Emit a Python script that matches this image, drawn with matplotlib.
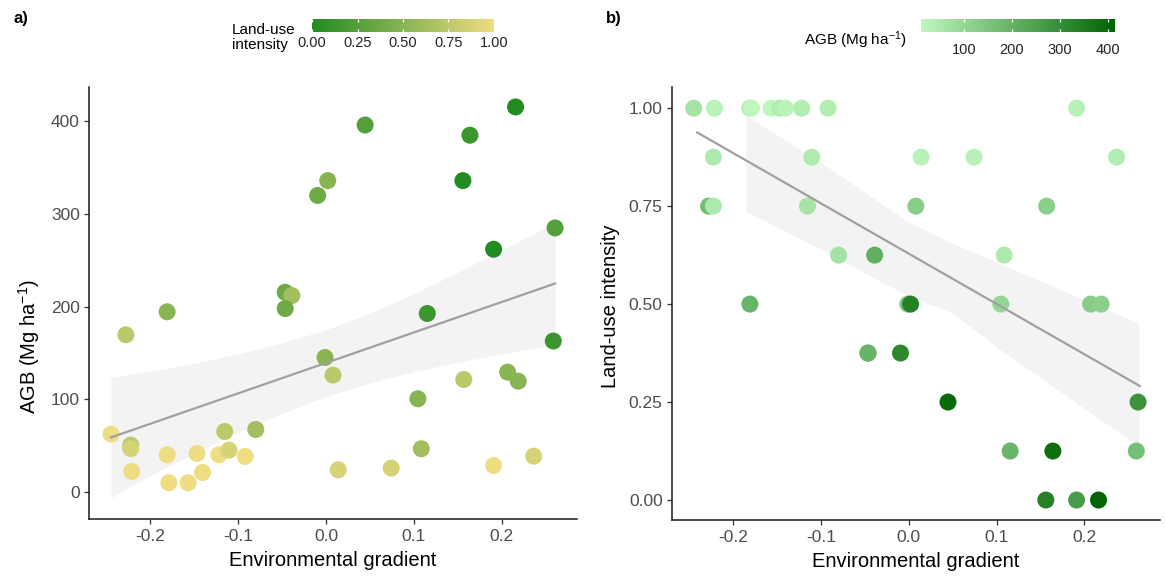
import numpy as np
import matplotlib
matplotlib.use('Agg')
import matplotlib.pyplot as plt
from matplotlib.colors import LinearSegmentedColormap, Normalize
from matplotlib.cm import ScalarMappable

plt.rcParams['font.family'] = ['Liberation Sans', 'DejaVu Sans']
plt.rcParams['mathtext.default'] = 'regular'

# ---- data ----
env = [-0.2449, -0.228, -0.2225, -0.2225, -0.2214, -0.181, -0.181, -0.179, -0.157, -0.147,
       -0.1406, -0.122, -0.1154, -0.1105, -0.092, -0.080, -0.0465, -0.0389, -0.0465, -0.0095,
       -0.0011, 0.002, 0.008, 0.014, 0.0446, 0.0743, 0.1047, 0.1086, 0.1154, 0.156,
       0.157, 0.164, 0.191, 0.191, 0.207, 0.216, 0.219, 0.2366, 0.261, 0.259]
agb = [62.5, 169.7, 50.7, 47.0, 22.3, 194.5, 40.3, 10.1, 10.1, 41.7,
       21.2, 40.3, 65.4, 45.3, 38.5, 67.6, 215.6, 212.0, 198.0, 320.0,
       145.2, 336.0, 126.2, 24.1, 396.0, 25.9, 100.7, 46.8, 192.7, 336.0,
       121.5, 385.0, 262.0, 28.8, 129.4, 415.5, 119.7, 38.8, 285.0, 163.0]
lui = [1.0, 0.75, 0.75, 0.875, 1.0, 0.5, 1.0, 1.0, 1.0, 1.0,
       1.0, 1.0, 0.75, 0.875, 1.0, 0.625, 0.375, 0.625, 0.375, 0.375,
       0.5, 0.5, 0.75, 0.875, 0.25, 0.875, 0.5, 0.625, 0.125, 0.0,
       0.75, 0.125, 0.0, 1.0, 0.5, 0.0, 0.5, 0.875, 0.25, 0.125]

# fitted line and confidence band, panel a
a_fit_x = [-0.245, 0.261]
a_fit_y = [59, 225]
a_band_x = [-0.245, -0.2, -0.15, -0.1, -0.05, 0.0, 0.05, 0.1, 0.15, 0.2, 0.261]
a_band_lo = [-6, 18, 42, 65, 85, 103, 118, 130, 140, 149, 159]
a_band_hi = [124, 130, 139, 149, 161, 175, 193, 214, 237, 261, 290]

# fitted line and confidence band, panel b
b_fit_x = [-0.241, 0.263]
b_fit_y = [0.938, 0.291]
b_band_x = [-0.1856, -0.1, 0.0, 0.05, 0.1, 0.2, 0.262]
b_band_hi = [0.982, 0.861, 0.709, 0.655, 0.607, 0.511, 0.451]
b_band_lo = [0.737, 0.640, 0.520, 0.478, 0.390, 0.234, 0.136]

x_ticks = [-0.2, -0.1, 0.0, 0.1, 0.2]
x_ticklabels = ['-0.2', '-0.1', '0.0', '0.1', '0.2']
a_yticks = [0, 100, 200, 300, 400]
b_yticks = [0.0, 0.25, 0.5, 0.75, 1.0]
b_yticklabels = ['0.00', '0.25', '0.50', '0.75', '1.00']
lui_cb_ticks = [0.0, 0.25, 0.5, 0.75, 1.0]
lui_cb_labels = ['0.00', '0.25', '0.50', '0.75', '1.00']
agb_cb_ticks = [100, 200, 300, 400]

# ---- styles ----
W, H = 1165, 579
cmap_lui = LinearSegmentedColormap.from_list('lui', ['#228B22', '#EEDD82'])
cmap_agb = LinearSegmentedColormap.from_list('agb', ['#BFF7BF', '#006400'])
norm_lui = Normalize(0, 1)
norm_agb = Normalize(min(agb), max(agb))
band_col = '#F3F3F3'
line_col = '#A0A0A0'
tick_col = '#4D4D4D'

fig = plt.figure(figsize=(W / 100, H / 100), dpi=100)
ax1 = fig.add_axes([89 / W, 1 - 519 / H, (577 - 89) / W, (519 - 87) / H])
ax2 = fig.add_axes([671.7 / W, 1 - 520 / H, (1160 - 671.7) / W, (520 - 87) / H])

for ax in (ax1, ax2):
    for s in ('top', 'right'):
        ax.spines[s].set_visible(False)
    for s in ('left', 'bottom'):
        ax.spines[s].set_linewidth(1.1)
        ax.spines[s].set_color('#1A1A1A')
    ax.tick_params(length=3.5, width=0.9, color='#333333', labelcolor=tick_col,
                   labelsize=12.5, pad=3)
    ax.tick_params(axis='x', pad=4)
    ax.set_xlim(-0.270, 0.286)
    ax.set_xticks(x_ticks)
    ax.set_xticklabels(x_ticklabels)
    ax.set_xlabel('Environmental gradient', fontsize=14.5, labelpad=5)

# panel a
ax1.fill_between(a_band_x, a_band_lo, a_band_hi, color=band_col, lw=0, zorder=1)
ax1.scatter(env, agb, c=lui, cmap=cmap_lui, norm=norm_lui, s=150, lw=0, zorder=2)
ax1.plot(a_fit_x, a_fit_y, color=line_col, lw=1.6, zorder=3)
ax1.set_ylim(-29, 437)
ax1.set_yticks(a_yticks)
fig.text(29 / W, 1 - 347 / H, 'AGB (Mg ha$^{-1}$)', rotation=90, ha='center', va='center',
         fontsize=14.5)

# panel b
ax2.fill_between(b_band_x, b_band_lo, b_band_hi, color=band_col, lw=0, zorder=1)
ax2.scatter(env, lui, c=agb, cmap=cmap_agb, norm=norm_agb, s=150, lw=0, zorder=2)
ax2.plot(b_fit_x, b_fit_y, color=line_col, lw=1.6, zorder=3)
ax2.set_ylim(-0.051, 1.054)
ax2.set_yticks(b_yticks)
ax2.set_yticklabels(b_yticklabels)
fig.text(610 / W, 1 - 306.7 / H, 'Land-use intensity', rotation=90, ha='center', va='center',
         fontsize=14.5)

# panel tags
fig.text(13 / W, 1 - 11 / H, 'a)', fontweight='bold', fontsize=12, ha='left', va='top')
fig.text(606 / W, 1 - 11 / H, 'b)', fontweight='bold', fontsize=12, ha='left', va='top')

# colorbars
cax1 = fig.add_axes([312 / W, 1 - 32.3 / H, (494 - 312) / W, 13 / H])
cb1 = fig.colorbar(ScalarMappable(norm=norm_lui, cmap=cmap_lui), cax=cax1, orientation='horizontal')
cb1.set_ticks(lui_cb_ticks)
cb1.set_ticklabels(lui_cb_labels)
cax2 = fig.add_axes([921 / W, 1 - 32.3 / H, (1115 - 921) / W, 13 / H])
cb2 = fig.colorbar(ScalarMappable(norm=norm_agb, cmap=cmap_agb), cax=cax2, orientation='horizontal')
cb2.set_ticks(agb_cb_ticks)
for cb, pad in ((cb1, 2.5), (cb2, 8.0)):
    cb.outline.set_visible(False)
    cb.ax.tick_params(axis='x', direction='in', length=2.2, width=0.9, color='white',
                      top=True, bottom=True, labelcolor='#222222', labelsize=10.5, pad=pad)

fig.text(232 / W, 1 - 37.5 / H, 'Land-use\nintensity', ha='left', va='center', fontsize=11,
         linespacing=1.05)
fig.text(804 / W, 1 - 40 / H, 'AGB (Mg ha$^{-1}$)', ha='left', va='center', fontsize=11)

fig.savefig('out.png', dpi=100)
